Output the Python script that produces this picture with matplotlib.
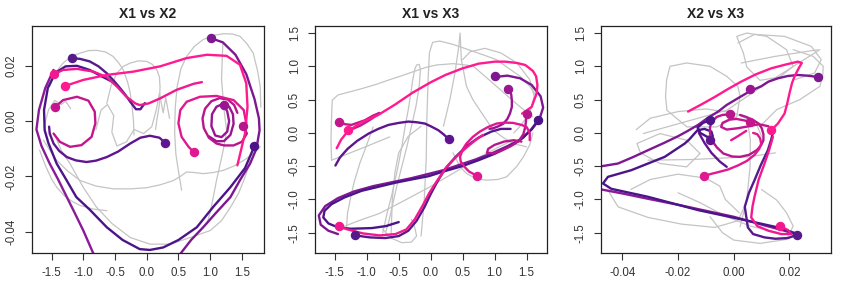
import matplotlib
matplotlib.use("Agg")
import matplotlib.pyplot as plt

plt.rcParams['font.family'] = ['Liberation Sans', 'DejaVu Sans']
plt.rcParams['axes.unicode_minus'] = False

titles = ["X1 vs X2", "X1 vs X3", "X2 vs X3"]
x1_ticks = [-1.5, -1.0, -0.5, 0.0, 0.5, 1.0, 1.5]
x1_labels = ["-1.5", "-1.0", "-0.5", "0.0", "0.5", "1.0", "1.5"]
x2_ticks = [-0.04, -0.02, 0.00, 0.02]
x2_labels = ["-0.04", "-0.02", "0.00", "0.02"]
x3_ticks = [-1.5, -1.0, -0.5, 0.0, 0.5, 1.0, 1.5]
x3_labels = ["-1.5", "-1.0", "-0.5", "0.0", "0.5", "1.0", "1.5"]

# trajectory colours (purple4 -> deeppink)
col_J = "#4B1589"
col_B = "#561A8B"
col_F = "#5F1590"
col_A = "#7E1792"
col_K = "#8A1A98"
col_H = "#991592"
col_I = "#B8168C"
col_E = "#C4168C"
col_G = "#E11990"
col_C = "#F2198F"
col_D = "#FF1A90"
gray_col = "#C4C4C4"

# ---------------- X1 vs X2 ----------------
g12_1 = [(0.55,-0.025),(0.5,-0.018),(0.46,-0.012),(0.44,-0.004),(0.45,0.005),(0.48,0.0125),(0.54,0.019),(0.63,0.0234),(0.75,0.027),(0.89,0.0295),(1.05,0.031),(1.21,0.0316),(1.35,0.0315),(1.47,0.0307),(1.58,0.028),(1.68,0.0246),(1.75,0.018),(1.79,0.0125),(1.8,0.005)]
g12_2 = [(-1.53,0.0125),(-1.44,0.0175),(-1.32,0.021),(-1.18,0.0235),(-1.05,0.0246),(-0.92,0.0255),(-0.79,0.0256),(-0.65,0.025),(-0.53,0.0234),(-0.44,0.021),(-0.37,0.0185),(-0.3,0.014),(-0.26,0.0101),(-0.23,0.005),(-0.21,0.0004),(-0.2,-0.005)]
g12_3 = [(-0.63,0.0064),(-0.56,0.013),(-0.47,0.0173),(-0.37,0.0198),(-0.26,0.021),(-0.13,0.0218),(0.0,0.0216),(0.09,0.0205),(0.16,0.0185),(0.2,0.016),(0.21,0.0125),(0.2,0.006),(0.16,0.0004),(0.14,-0.003)]
g12_4 = [(-1.63,-0.0069),(-1.53,-0.0105),(-1.42,-0.0142),(-1.25,-0.018),(-1.05,-0.0215),(-0.8,-0.0235),(-0.53,-0.0245),(-0.25,-0.0245),(0.0,-0.0241),(0.22,-0.023),(0.42,-0.0215),(0.53,-0.02),(0.63,-0.0184),(0.75,-0.0186),(0.89,-0.019),(1.05,-0.0186),(1.21,-0.0178),(1.38,-0.0162),(1.53,-0.0142),(1.67,-0.012),(1.79,-0.0093)]
g12_5 = [(-1.69,-0.0105),(-1.6,-0.016),(-1.5,-0.021),(-1.42,-0.0239),(-1.3,-0.027),(-1.18,-0.029),(-1.05,-0.0305),(-0.85,-0.0318),(-0.63,-0.0324)]
g12_6 = [(-1.45,-0.005),(-1.35,-0.0105),(-1.21,-0.0154),(-1.0,-0.024),(-0.79,-0.0312),(-0.55,-0.037),(-0.26,-0.0421),(0.05,-0.0445),(0.37,-0.0445),(0.7,-0.042),(1.0,-0.0396),(1.18,-0.036),(1.32,-0.0312),(1.45,-0.026),(1.53,-0.0215),(1.6,-0.017),(1.63,-0.0142)]
g12_7 = [(1.2,0.028),(1.18,0.015),(1.22,0.004),(1.26,-0.0033),(1.22,-0.009),(1.16,-0.0154),(1.1,-0.0215),(1.05,-0.0275),(1.0,-0.033),(0.95,-0.0372)]
g12_8 = [(-0.8,-0.003),(-0.72,0.004),(-0.62,0.006),(-0.52,0.002),(-0.55,-0.004),(-0.47,-0.009),(-0.32,-0.0075),(-0.2,-0.003),(-0.05,-0.0045),(0.08,-0.002),(0.15,0.004),(0.2,0.01),(0.26,0.003),(0.3,0.0085),(0.36,0.001)]
g12_9 = [(-1.62,-0.002),(-1.55,0.004),(-1.45,0.0075),(-1.35,0.006),(-1.28,0.0072),(-1.2,0.0045)]
gray12 = [g12_1, g12_2, g12_3, g12_4, g12_5, g12_6, g12_7, g12_8, g12_9]

A12 = [(1.01,0.030),(1.2,0.0285),(1.4,0.024),(1.57,0.017),(1.7,0.008),(1.77,0.001),(1.78,-0.0033),(1.73,-0.010),(1.63,-0.0154),(1.48,-0.021),(1.32,-0.0275),(1.1,-0.033),(0.89,-0.0384),(0.7,-0.043),(0.53,-0.048),(0.45,-0.051)]
J12 = [(1.70,-0.009),(1.55,-0.017),(1.32,-0.0239),(1.05,-0.031),(0.79,-0.0384),(0.5,-0.043),(0.26,-0.0457),(0.05,-0.0466),(-0.11,-0.0463),(-0.38,-0.043),(-0.63,-0.0384),(-0.9,-0.032),(-1.11,-0.0275),(-1.3,-0.020),(-1.42,-0.0154),(-1.55,-0.008),(-1.61,-0.0033),(-1.62,0.004),(-1.56,0.012),(-1.44,0.0175),(-1.28,0.0198),(-1.1,0.0200),(-0.9,0.0185),(-0.72,0.0163),(-0.55,0.0143)]
K12 = [(-1.47,0.0185),(-1.6,0.012),(-1.7,0.004),(-1.74,-0.003),(-1.66,-0.009),(-1.53,-0.0154),(-1.4,-0.021),(-1.26,-0.0275),(-1.13,-0.0335),(-1.0,-0.0396),(-0.84,-0.048),(-0.78,-0.051)]
F12 = [(0.29,-0.0078),(0.2,-0.006),(0.05,-0.0053),(-0.1,-0.006),(-0.26,-0.0081),(-0.45,-0.011),(-0.63,-0.013),(-0.8,-0.0143),(-0.95,-0.0148),(-1.12,-0.0142),(-1.26,-0.013),(-1.38,-0.0108),(-1.47,-0.0081),(-1.53,-0.0045),(-1.54,-0.002)]
B12 = [(-1.18,0.0228),(-1.05,0.0225),(-0.9,0.0216),(-0.76,0.0198),(-0.63,0.0173),(-0.52,0.0146),(-0.42,0.0119),(-0.33,0.0093),(-0.26,0.007),(-0.17,0.0043),(-0.1,0.0043),(-0.03,0.0065)]
C12 = [(-1.46,0.017),(-1.32,0.0185),(-1.1,0.0189),(-0.84,0.0179),(-0.63,0.0159),(-0.47,0.0125),(-0.32,0.0088),(-0.18,0.0064),(-0.11,0.0058),(0.03,0.0064),(0.21,0.0082),(0.47,0.0113),(0.74,0.0135),(0.87,0.0141)]
D12 = [(-1.29,0.0127),(-1.0,0.0149),(-0.63,0.0167),(-0.21,0.0179),(0.21,0.0198),(0.63,0.0228),(0.95,0.024),(1.26,0.0236),(1.47,0.0204),(1.57,0.0137),(1.59,0.0052),(1.55,-0.0045),(1.43,-0.016)]
E12 = [(-1.45,0.005),(-1.32,0.0076),(-1.1,0.0088),(-0.92,0.0074),(-0.82,0.0034),(-0.81,-0.0008),(-0.87,-0.0057),(-1.03,-0.0087),(-1.21,-0.0093),(-1.37,-0.0075),(-1.47,-0.0045)]
G12 = [(0.74,-0.0112),(0.66,-0.0093),(0.55,-0.0057),(0.5,-0.0008),(0.53,0.004),(0.63,0.007),(0.84,0.0088),(1.1,0.0091),(1.37,0.0076),(1.53,0.004),(1.57,-0.0008),(1.52,-0.0016)]
I12 = [(1.52,-0.0016),(1.58,-0.0045),(1.5,-0.0075),(1.37,-0.0088),(1.22,-0.0088),(1.1,-0.0081),(0.98,-0.006),(0.9,-0.0025),(0.88,0.001),(0.92,0.0045),(1.02,0.0072),(1.15,0.0083),(1.28,0.0078),(1.38,0.0058),(1.43,0.003)]
H12 = [(1.22,0.0057),(1.27,0.0035),(1.3,0.0),(1.27,-0.0038),(1.18,-0.0058),(1.08,-0.0052),(1.02,-0.0018),(1.03,0.0025),(1.1,0.0052),(1.2,0.0062),(1.3,0.0052),(1.36,0.0025),(1.37,-0.001),(1.32,-0.005),(1.22,-0.0072),(1.1,-0.0073),(0.98,-0.0055)]
traj12 = [(K12, col_K), (A12, col_A), (J12, col_J), (F12, col_F), (B12, col_B),
          (E12, col_E), (H12, col_H), (I12, col_I), (G12, col_G), (C12, col_C), (D12, col_D)]
dots12 = [(1.01,0.030,col_A),(-1.18,0.0228,col_B),(-1.46,0.017,col_C),(-1.29,0.0127,col_D),
          (-1.45,0.005,col_E),(0.29,-0.0078,col_F),(0.74,-0.0112,col_G),(1.22,0.0057,col_H),
          (1.52,-0.0016,col_I),(1.70,-0.009,col_J)]

# ---------------- X1 vs X3 ----------------
g13_1 = [(-1.55,-0.41),(-1.56,-0.1),(-1.55,0.25),(-1.54,0.49),(-1.45,0.57),(-1.25,0.62),(-1.06,0.67),(-0.85,0.73),(-0.64,0.8),(-0.45,0.86),(-0.27,0.92),(-0.09,0.98),(0.09,1.02),(0.35,1.04),(0.55,1.02),(0.67,1.0),(0.85,0.85),(1.03,0.7),(1.22,0.54),(1.4,0.39),(1.6,0.24)]
g13_2 = [(-0.75,-1.5),(-0.68,-1.2),(-0.6,-0.9),(-0.52,-0.55),(-0.45,-0.2),(-0.4,0.1),(-0.35,0.35),(-0.31,0.6),(-0.28,0.8),(-0.25,0.95),(-0.22,1.02),(-0.18,1.03),(-0.16,0.95),(-0.18,0.7),(-0.23,0.4),(-0.3,0.1),(-0.37,-0.2),(-0.45,-0.5),(-0.53,-0.8),(-0.6,-1.1),(-0.66,-1.35),(-0.7,-1.48)]
g13_3 = [(-0.15,-1.55),(-0.1,-1.0),(-0.07,-0.4),(-0.06,0.2),(-0.04,0.8),(-0.02,1.2),(0.03,1.36),(0.14,1.38),(0.35,1.33),(0.56,1.26),(0.8,1.18),(1.03,1.1),(1.25,0.95),(1.4,0.85),(1.55,0.7),(1.66,0.55)]
g13_4 = [(0.2,0.1),(0.3,0.5),(0.38,0.9),(0.44,1.3),(0.46,1.5),(0.48,1.1),(0.56,0.7),(0.66,0.5),(0.77,0.34),(0.98,0.04),(1.15,-0.08),(1.29,-0.16),(1.5,-0.21)]
g13_5 = [(0.5,1.1),(0.62,1.22),(0.85,1.27),(1.1,1.2),(1.35,1.05),(1.55,0.8),(1.62,0.55),(1.55,0.3),(1.4,0.1),(1.3,0.0)]
g13_6 = [(0.35,-0.3),(0.46,-0.51),(0.56,-0.61),(0.72,-0.69),(0.87,-0.71),(1.05,-0.7),(1.19,-0.66),(1.35,-0.5),(1.45,-0.36),(1.55,-0.18),(1.6,0.0)]
g13_7 = [(-1.32,-1.46),(-1.3,-1.2),(-1.26,-1.01),(-1.2,-0.75),(-1.11,-0.46),(-1.0,-0.18),(-0.9,0.09)]
g13_8 = [(-1.55,-0.41),(-1.1,-0.24),(-0.64,-0.06)]
g13_9 = [(-1.37,-1.41),(-1.1,-1.31),(-0.8,-1.21),(-0.4,-1.01),(-0.01,-0.81),(0.4,-0.58),(0.77,-0.36),(1.05,-0.22),(1.29,-0.11)]
g13_10 = [(-0.75,-1.45),(-0.62,-1.58),(-0.45,-1.65),(-0.3,-1.64),(-0.22,-1.55),(-0.25,-1.42),(-0.3,-1.3)]
g13_11 = [(-0.62,-1.55),(-0.6,-1.0),(-0.56,-0.6),(-0.5,-0.3),(-0.35,-0.05),(-0.15,0.1)]
gray13 = [g13_1, g13_2, g13_3, g13_4, g13_5, g13_6, g13_7, g13_8, g13_9, g13_10, g13_11]

D13 = [(-1.47,-0.23),(-1.4,-0.1),(-1.3,0.02),(-1.1,0.15),(-0.82,0.27),(-0.55,0.43),(-0.29,0.6),(0.0,0.76),(0.23,0.87),(0.5,0.97),(0.75,1.04),(1.0,1.07),(1.17,1.07),(1.35,1.05),(1.48,1.02),(1.6,0.93),(1.65,0.85),(1.67,0.72),(1.66,0.6),(1.58,0.39),(1.43,0.29)]
E13 = [(-1.44,0.17),(-1.34,0.13),(-1.24,0.12),(-1.03,0.19),(-0.9,0.26),(-0.8,0.3),(-0.85,0.26),(-0.96,0.19),(-1.1,0.11),(-1.22,0.06),(-1.3,0.05)]
F13 = [(0.28,-0.09),(0.2,-0.02),(0.12,0.04),(0.0,0.1),(-0.09,0.14),(-0.22,0.16),(-0.35,0.17),(-0.5,0.15),(-0.66,0.12),(-0.82,0.06),(-0.97,-0.01),(-1.15,-0.12),(-1.3,-0.24),(-1.42,-0.37),(-1.49,-0.49)]
J13 = [(1.68,0.19),(1.58,0.06),(1.45,-0.07),(1.3,-0.17),(1.01,-0.31),(0.75,-0.41),(0.49,-0.5),(0.2,-0.58),(-0.03,-0.65),(-0.3,-0.7),(-0.56,-0.75),(-0.82,-0.81),(-1.08,-0.87),(-1.35,-0.97),(-1.55,-1.07),(-1.66,-1.17),(-1.68,-1.27),(-1.6,-1.36),(-1.45,-1.42),(-1.25,-1.44),(-0.92,-1.43),(-0.7,-1.4),(-0.5,-1.34)]
A13 = [(1.01,0.84),(1.2,0.86),(1.4,0.82),(1.58,0.72),(1.72,0.55),(1.76,0.38),(1.7,0.2),(1.58,0.05),(1.4,-0.1),(1.2,-0.2),(0.95,-0.31),(0.7,-0.4),(0.45,-0.48),(0.2,-0.56),(-0.05,-0.62),(-0.3,-0.68),(-0.6,-0.74),(-0.9,-0.8),(-1.2,-0.88),(-1.45,-0.98),(-1.65,-1.1),(-1.75,-1.24),(-1.72,-1.38),(-1.6,-1.47),(-1.45,-1.52)]
B13 = [(-1.18,-1.54),(-0.95,-1.57),(-0.71,-1.58),(-0.5,-1.55),(-0.35,-1.47),(-0.22,-1.32),(-0.1,-1.12),(0.0,-0.92),(0.1,-0.74),(0.22,-0.55),(0.38,-0.37),(0.56,-0.2),(0.75,-0.07),(0.95,0.02),(1.1,0.06),(1.25,0.06)]
C13 = [(-1.44,-1.40),(-1.3,-1.45),(-1.06,-1.51),(-0.8,-1.54),(-0.55,-1.52),(-0.38,-1.45),(-0.25,-1.3),(-0.13,-1.1),(-0.02,-0.9),(0.1,-0.72),(0.25,-0.51),(0.4,-0.36),(0.56,-0.22),(0.7,-0.11),(0.82,-0.03)]
G13 = [(0.73,-0.65),(0.6,-0.58),(0.53,-0.51),(0.47,-0.43),(0.46,-0.36),(0.5,-0.25),(0.56,-0.16),(0.66,-0.06),(0.77,0.02),(0.9,0.09),(1.03,0.14),(1.16,0.155),(1.29,0.15),(1.42,0.12),(1.5,0.09),(1.55,0.0),(1.55,-0.11)]
H13 = [(1.21,0.66),(1.26,0.58),(1.27,0.49),(1.27,0.39),(1.24,0.29),(1.2,0.21),(1.14,0.14),(1.06,0.1),(0.98,0.07),(0.92,0.06)]
I13 = [(1.5,0.28),(1.49,0.17),(1.48,0.09),(1.45,-0.02),(1.38,-0.12),(1.25,-0.2),(1.1,-0.27),(0.98,-0.31),(0.88,-0.3),(0.9,-0.24),(1.0,-0.18),(1.15,-0.13),(1.3,-0.11),(1.42,-0.13)]
traj13 = [(A13, col_A), (J13, col_J), (B13, col_B), (F13, col_F), (H13, col_H),
          (I13, col_I), (E13, col_E), (G13, col_G), (C13, col_C), (D13, col_D)]
dots13 = [(1.01,0.85,col_A),(-1.18,-1.54,col_B),(-1.44,-1.40,col_C),(-1.29,0.05,col_D),
          (-1.44,0.17,col_E),(0.28,-0.09,col_F),(0.73,-0.65,col_G),(1.21,0.66,col_H),
          (1.5,0.28,col_I),(1.68,0.19,col_J)]

# ---------------- X2 vs X3 ----------------
g23_1 = [(-0.0245,0.55),(-0.0241,0.8),(-0.0229,1.0),(-0.0169,1.05),(-0.0085,1.0),(-0.0025,0.85),(0.0015,0.7),(0.0023,0.55),(0.0011,0.24),(-0.0061,0.09),(-0.0168,0.09),(-0.024,0.34),(-0.0245,0.55)]
g23_2 = [(0.0035,1.2),(0.0011,1.45),(0.0047,1.5),(0.0119,1.45),(0.019,1.25),(0.0214,1.0),(0.0166,0.84),(0.0095,0.79),(0.0047,0.99),(0.0035,1.2)]
g23_3 = [(-0.0325,-0.01),(-0.018,0.16),(-0.0025,0.34),(0.012,0.75),(0.031,1.25)]
g23_4 = [(0.0214,1.25),(0.0286,1.15),(0.0322,1.0),(0.032,0.85),(0.031,0.7),(0.0238,0.5),(0.0155,0.35),(0.0095,0.1)]
g23_5 = [(-0.0452,-0.86),(-0.0416,-1.11),(-0.0308,-1.27),(-0.0188,-1.37),(-0.0068,-1.42),(0.0015,-1.32),(0.004,-1.1)]
g23_6 = [(-0.0085,-1.26),(-0.004,-1.5),(0.0,-1.61),(0.0095,-1.66),(0.019,-1.6),(0.0214,-1.4),(0.019,-1.2),(0.0155,-1.01),(0.01,-0.85)]
g23_7 = [(-0.0335,-0.3),(-0.0348,-0.16),(-0.0265,-0.01),(-0.0169,-0.11),(-0.0121,-0.31),(-0.0169,-0.51),(-0.0265,-0.46),(-0.0335,-0.3)]
g23_8 = [(0.0047,0.24),(0.006,-0.1),(0.0059,-0.51),(0.0047,-1.01),(0.0023,-1.41)]
g23_9 = [(-0.0308,-0.41),(-0.015,-0.4),(0.0051,-0.36),(0.015,-0.3)]
g23_10 = [(-0.037,-0.85),(-0.03,-0.7),(-0.02,-0.62),(-0.01,-0.68),(-0.005,-0.8),(-0.003,-1.0),(0.002,-1.2)]
g23_11 = [(0.0015,1.35),(0.0075,1.48),(0.0183,1.45),(0.0279,1.3),(0.0315,1.1),(0.0291,0.9),(0.022,0.8)]
g23_12 = [(0.0027,1.05),(0.015,1.15),(0.0303,1.25)]
g23_13 = [(-0.035,0.05),(-0.03,0.22),(-0.02,0.32),(-0.01,0.36),(0.0,0.3),(0.008,0.15),(0.01,-0.05)]
g23_14 = [(-0.02,-0.9),(-0.012,-1.05),(-0.003,-1.25),(0.006,-1.4),(0.016,-1.5)]
gray23 = [g23_1, g23_2, g23_3, g23_4, g23_5, g23_6, g23_7, g23_8, g23_9, g23_10, g23_11, g23_12, g23_13, g23_14]

A23 = [(0.0303,0.84),(0.0265,0.86),(0.0231,0.87),(0.0195,0.855),(0.0159,0.82),(0.0125,0.77),(0.0099,0.7),(0.006,0.63),(0.0015,0.52),(-0.0025,0.42),(-0.0056,0.32),(-0.0095,0.22),(-0.0128,0.12),(-0.0165,0.03),(-0.02,-0.05),(-0.025,-0.15),(-0.0308,-0.26),(-0.036,-0.36),(-0.0416,-0.46),(-0.0488,-0.51)]
J23 = [(-0.0085,0.19),(-0.011,0.15),(-0.013,0.08),(-0.012,0.0),(-0.0095,-0.06),(-0.0075,-0.05),(-0.008,0.02),(-0.0105,0.06),(-0.013,0.04),(-0.016,-0.1),(-0.0176,-0.16),(-0.0248,-0.36),(-0.0368,-0.56),(-0.0452,-0.66),(-0.047,-0.76),(-0.044,-0.84),(-0.0308,-0.96),(-0.0128,-1.16),(0.0051,-1.32),(0.0159,-1.42),(0.0231,-1.52)]
K23 = [(-0.0488,-0.84),(-0.04,-0.91),(-0.0308,-0.99),(-0.02,-1.08),(-0.01,-1.17),(0.0,-1.26),(0.0051,-1.32),(0.012,-1.4),(0.0183,-1.47),(0.0228,-1.53)]
B23 = [(0.0228,-1.53),(0.0195,-1.58),(0.015,-1.59),(0.0111,-1.57),(0.007,-1.52),(0.0051,-1.42),(0.0045,-1.25),(0.004,-1.11),(0.0055,-0.9),(0.0075,-0.71),(0.0098,-0.48),(0.0123,-0.26),(0.0135,-0.1),(0.0141,0.0)]
C23 = [(0.0168,-1.40),(0.0195,-1.46),(0.0207,-1.52),(0.0171,-1.52),(0.0125,-1.47),(0.0085,-1.4),(0.0063,-1.27),(0.0068,-1.1),(0.0075,-0.96),(0.009,-0.7),(0.0111,-0.46),(0.0128,-0.25),(0.0141,-0.06)]
D23 = [(0.0135,0.04),(0.0159,0.14),(0.0183,0.29),(0.0193,0.45),(0.0201,0.6),(0.021,0.75),(0.0219,0.85),(0.0235,0.98),(0.0245,1.05),(0.0231,1.07),(0.019,1.03),(0.0135,0.97),(0.008,0.88),(0.0027,0.77),(-0.002,0.66),(-0.0068,0.54),(-0.0115,0.43),(-0.0164,0.32)]
G23 = [(-0.0107,-0.65),(-0.0085,-0.62),(-0.0056,-0.59),(-0.002,-0.55),(0.0015,-0.49),(0.0048,-0.42),(0.0075,-0.33),(0.0092,-0.24),(0.0099,-0.16),(0.0095,-0.08),(0.0085,-0.02),(0.007,0.0)]
I23 = [(-0.0014,0.28),(-0.004,0.27),(-0.0061,0.24),(-0.0078,0.17),(-0.0085,0.09),(-0.0085,-0.01),(-0.0079,-0.11),(-0.006,-0.22),(-0.0037,-0.31),(-0.0005,-0.355),(0.0023,-0.36),(0.0055,-0.33),(0.0083,-0.26),(0.0098,-0.19),(0.0107,-0.11),(0.0107,-0.02),(0.0101,0.07),(0.009,0.14),(0.0071,0.19),(0.0045,0.24),(0.0023,0.27)]
E23 = [(0.0057,0.17),(0.0035,0.19),(0.001,0.21),(-0.0015,0.2),(-0.004,0.15),(-0.0045,0.09),(-0.0025,0.05),(0.0015,0.07),(0.0055,0.1),(0.009,0.13),(0.0125,0.1)]
F23 = [(-0.0125,0.0),(-0.0105,-0.15),(-0.008,-0.3),(-0.005,-0.43),(-0.0025,-0.51)]
P23 = [(-0.0009,-0.11),(0.0015,-0.05),(0.0045,0.03)]
traj23 = [(A23, col_A), (K23, col_K), (J23, col_J), (B23, col_B), (F23, col_F),
          (I23, col_I), (E23, col_E), (G23, col_G), (P23, col_G), (C23, col_C), (D23, col_D)]
dots23 = [(0.0303,0.84,col_A),(0.0228,-1.53,col_B),(0.0168,-1.40,col_C),(0.0135,0.04,col_D),
          (0.0057,0.17,col_E),(-0.0085,-0.1,col_F),(-0.0107,-0.65,col_G),(0.0059,0.66,col_H),
          (-0.0014,0.28,col_I),(-0.0085,0.19,col_J)]

panels = [
    dict(title=titles[0], gray=gray12, traj=traj12, dots=dots12,
         xlim=(-1.81, 1.85), ylim=(-0.0476, 0.0345),
         xt=x1_ticks, xl=x1_labels, yt=x2_ticks, yl=x2_labels),
    dict(title=titles[1], gray=gray13, traj=traj13, dots=dots13,
         xlim=(-1.81, 1.82), ylim=(-1.80, 1.61),
         xt=x1_ticks, xl=x1_labels, yt=x3_ticks, yl=x3_labels),
    dict(title=titles[2], gray=gray23, traj=traj23, dots=dots23,
         xlim=(-0.0477, 0.035), ylim=(-1.80, 1.61),
         xt=x2_ticks, xl=x2_labels, yt=x3_ticks, yl=x3_labels),
]
positions = [[0.0379, 0.1375, 0.2749, 0.7747],
             [0.3732, 0.1375, 0.2749, 0.7747],
             [0.7121, 0.1375, 0.2725, 0.7747]]

fig = plt.figure(figsize=(8.44, 2.93), dpi=100)
for pos, p in zip(positions, panels):
    ax = fig.add_axes(pos)
    for g in p['gray']:
        ax.plot([q[0] for q in g], [q[1] for q in g], color=gray_col, lw=0.9,
                solid_joinstyle='round', solid_capstyle='round', zorder=1)
    for pts, c in p['traj']:
        ax.plot([q[0] for q in pts], [q[1] for q in pts], color=c, lw=1.7,
                solid_joinstyle='round', solid_capstyle='round', zorder=2)
    for x, y, c in p['dots']:
        ax.plot([x], [y], 'o', color=c, ms=5.8, mec=c, zorder=3)
    ax.set_xlim(*p['xlim'])
    ax.set_ylim(*p['ylim'])
    ax.set_xticks(p['xt'])
    ax.set_xticklabels(p['xl'])
    ax.set_yticks(p['yt'])
    ax.set_yticklabels(p['yl'], rotation=90, va='center')
    ax.tick_params(length=5.3, width=0.8, pad=5, labelsize=8.3,
                   colors='#333333', labelcolor='#333333')
    for s in ax.spines.values():
        s.set_linewidth(0.9)
        s.set_color('#222222')
    ax.set_title(p['title'], fontsize=10, fontweight='bold', pad=5.5, color='#222222')

fig.savefig("out.png", dpi=100)
